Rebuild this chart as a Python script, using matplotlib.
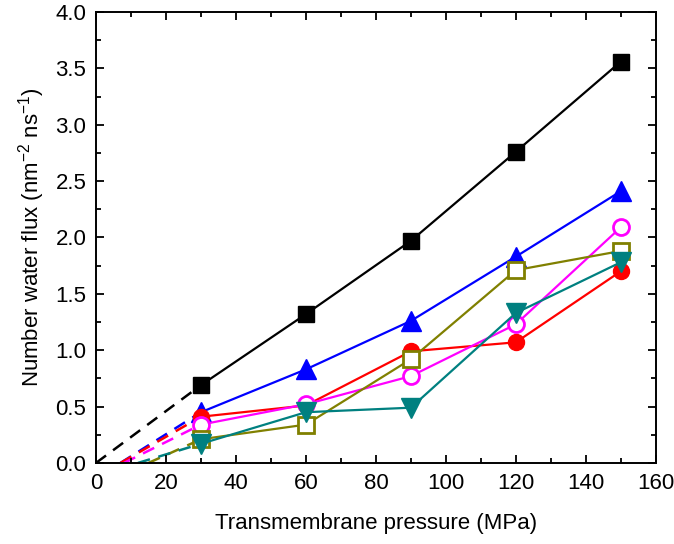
import numpy as np
from matplotlib import pyplot as plt
from matplotlib.ticker import MultipleLocator

plt.rcParams['font.family'] = ['Liberation Sans', 'DejaVu Sans']
plt.rcParams['mathtext.fontset'] = 'custom'
plt.rcParams['mathtext.rm'] = 'Liberation Sans'

pressure = [30, 60, 90, 120, 150]

# series values (nm^-2 ns^-1)
flux_black = [0.69, 1.32, 1.97, 2.76, 3.56]
flux_blue = [0.45, 0.83, 1.26, 1.83, 2.41]
flux_red = [0.41, 0.51, 0.99, 1.07, 1.70]
flux_magenta = [0.34, 0.52, 0.77, 1.23, 2.09]
flux_olive = [0.21, 0.34, 0.92, 1.71, 1.88]
flux_teal = [0.17, 0.45, 0.49, 1.33, 1.78]

# x-intercepts of the dashed extrapolation lines
intercepts = [0, 7, 7, 8, 15, 12]

series = [
    (flux_black, 'black', 's', 'black'),
    (flux_blue, 'blue', '^', 'blue'),
    (flux_red, 'red', 'o', 'red'),
    (flux_magenta, 'magenta', 'o', 'white'),
    (flux_olive, '#808000', 's', 'white'),
    (flux_teal, '#008080', 'v', '#008080'),
]

fig = plt.figure(figsize=(6.74, 5.44), dpi=100)
ax = fig.add_axes([0.1424, 0.149, 0.8306, 0.829])

for (flux, color, marker, face), x0 in zip(series, intercepts):
    ax.plot([x0, pressure[0]], [0, flux[0]], '--', color=color, linewidth=1.8,
            dashes=(5, 3.5), zorder=1)

for flux, color, marker, face in series:
    ms = 14 if marker in ('^', 'v') else 11.5
    ax.plot(pressure, flux, color=color, linewidth=1.6, marker=marker,
            markersize=ms, markerfacecolor=face, markeredgecolor=color,
            markeredgewidth=2 if face == 'white' else 1, zorder=3)

ax.set_xlim(0, 160)
ax.set_ylim(0, 4.0)
ax.xaxis.set_major_locator(MultipleLocator(20))
ax.xaxis.set_minor_locator(MultipleLocator(10))
ax.yaxis.set_major_locator(MultipleLocator(0.5))
ax.yaxis.set_minor_locator(MultipleLocator(0.25))
ax.yaxis.set_major_formatter(plt.FormatStrFormatter('%.1f'))
ax.tick_params(which='both', direction='in', top=True, right=True, labelsize=16)
ax.tick_params(which='major', length=6, width=1.3, pad=7)
ax.tick_params(which='minor', length=3.5, width=1.3)
for spine in ax.spines.values():
    spine.set_linewidth(1.4)

ax.set_xlabel('Transmembrane pressure (MPa)', fontsize=16, labelpad=14)
ax.set_ylabel('Number water flux (nm$^{\\mathrm{-2}}$ ns$^{\\mathrm{-1}}$)', fontsize=16,
              labelpad=6)

fig.savefig('out.png', dpi=100)
